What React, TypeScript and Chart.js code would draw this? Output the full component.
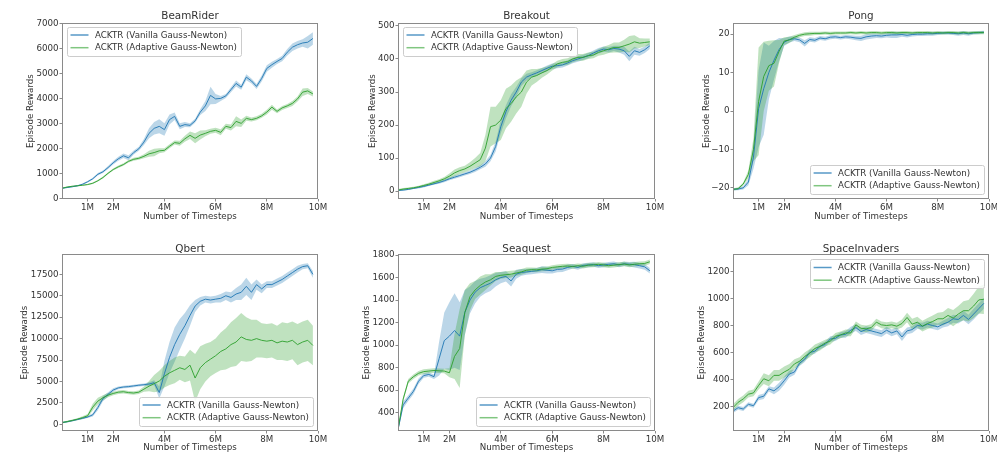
import { useEffect, useRef } from 'react';
import { Chart, registerables } from 'chart.js';
Chart.register(...registerables);

// ---------------- data ----------------
const steps = [0, 0.2, 0.4, 0.6, 0.8, 1.0, 1.2, 1.4, 1.6, 1.8, 2.0, 2.2, 2.4, 2.6, 2.8, 3.0, 3.2, 3.4, 3.6, 3.8, 4.0, 4.2, 4.4, 4.6, 4.8, 5.0, 5.2, 5.4, 5.6, 5.8, 6.0, 6.2, 6.4, 6.6, 6.8, 7.0, 7.2, 7.4, 7.6, 7.8, 8.0, 8.2, 8.4, 8.6, 8.8, 9.0, 9.2, 9.4, 9.6, 9.8];
const xTicks = [1, 2, 4, 6, 8, 10];
const seriesNames = ['ACKTR (Vanilla Gauss-Newton)', 'ACKTR (Adaptive Gauss-Newton)'];

const beamRiderVanilla = [400, 430, 460, 500, 560, 660, 780, 960, 1060, 1230, 1420, 1580, 1700, 1620, 1830, 1980, 2250, 2600, 2800, 2880, 2750, 3150, 3280, 2880, 2950, 2920, 3100, 3450, 3700, 4120, 3980, 4000, 4100, 4350, 4600, 4450, 4850, 4700, 4480, 4800, 5200, 5350, 5480, 5600, 5850, 6050, 6150, 6220, 6250, 6400];
const beamRiderVanillaSpread = [20, 20, 20, 25, 30, 30, 40, 50, 50, 60, 70, 80, 90, 100, 80, 80, 120, 200, 250, 280, 250, 200, 150, 120, 100, 80, 80, 120, 200, 350, 200, 100, 80, 100, 120, 100, 120, 100, 100, 120, 130, 120, 100, 110, 130, 150, 150, 150, 250, 250];
const beamRiderAdaptive = [400, 450, 480, 500, 520, 550, 600, 700, 830, 1000, 1150, 1260, 1350, 1480, 1560, 1600, 1680, 1780, 1830, 1900, 1920, 2080, 2230, 2200, 2380, 2520, 2400, 2530, 2600, 2680, 2720, 2640, 2880, 2830, 3080, 3000, 3200, 3150, 3200, 3300, 3450, 3650, 3480, 3620, 3700, 3800, 3980, 4250, 4300, 4180];
const beamRiderAdaptiveSpread = [20, 20, 20, 20, 20, 25, 30, 30, 40, 40, 40, 50, 50, 50, 60, 60, 80, 120, 150, 100, 80, 80, 80, 100, 120, 150, 200, 180, 120, 100, 100, 120, 100, 120, 200, 150, 100, 80, 80, 80, 100, 100, 80, 80, 80, 100, 100, 150, 120, 100];
const beamRiderYTicks = [0, 1000, 2000, 3000, 4000, 5000, 6000, 7000];

const breakoutVanilla = [2, 3, 5, 8, 11, 14, 18, 22, 26, 31, 37, 42, 47, 52, 57, 64, 72, 82, 100, 135, 195, 240, 275, 300, 330, 345, 352, 358, 365, 372, 378, 380, 382, 388, 395, 400, 405, 410, 418, 425, 430, 428, 432, 430, 425, 408, 425, 420, 428, 440];
const breakoutVanillaSpread = [2, 2, 2, 2, 3, 3, 3, 3, 4, 4, 4, 5, 5, 5, 5, 6, 6, 8, 10, 15, 20, 20, 18, 15, 12, 10, 8, 8, 8, 8, 8, 8, 8, 8, 8, 8, 8, 8, 8, 8, 8, 8, 8, 10, 12, 15, 12, 10, 10, 10];
const breakoutAdaptive = [3, 6, 8, 10, 13, 17, 21, 26, 31, 37, 45, 55, 62, 67, 75, 85, 95, 130, 195, 200, 215, 250, 265, 285, 300, 330, 345, 350, 358, 365, 375, 385, 390, 392, 400, 405, 405, 410, 412, 420, 425, 430, 435, 435, 440, 445, 452, 448, 450, 452];
const breakoutAdaptiveSpread = [3, 3, 3, 3, 3, 4, 4, 5, 5, 6, 8, 10, 10, 10, 12, 15, 20, 40, 60, 55, 60, 60, 55, 50, 45, 35, 25, 20, 15, 12, 10, 10, 10, 10, 10, 10, 10, 10, 10, 10, 12, 12, 15, 15, 18, 25, 20, 15, 12, 10];
const breakoutYTicks = [0, 100, 200, 300, 400, 500];

const pongVanilla = [-20.4, -20.3, -20.0, -18.5, -12.0, 0.6, 5.8, 10.0, 13.2, 16.0, 17.9, 18.6, 18.8, 18.5, 17.6, 18.6, 18.4, 19.0, 18.8, 19.2, 19.3, 19.1, 19.3, 19.2, 19.0, 18.9, 19.3, 19.5, 19.6, 19.5, 19.7, 19.8, 19.8, 19.9, 19.7, 19.9, 20.0, 20.0, 20.1, 20.1, 20.2, 20.3, 20.3, 20.2, 20.1, 20.3, 20.1, 20.3, 20.4, 20.5];
const pongVanillaSpread = [0.3, 0.3, 0.4, 0.8, 3, 10, 12, 7, 5, 3, 1, 0.8, 0.6, 0.6, 0.8, 0.6, 0.6, 0.5, 0.5, 0.5, 0.5, 0.5, 0.5, 0.5, 0.6, 0.7, 0.7, 0.7, 0.6, 0.6, 0.6, 0.8, 0.8, 0.6, 0.6, 0.5, 0.5, 0.5, 0.5, 0.5, 0.4, 0.4, 0.4, 0.4, 0.5, 0.5, 0.5, 0.4, 0.4, 0.4];
const pongAdaptive = [-20.4, -20.2, -19.0, -16.5, -10.0, 2.5, 9.0, 11.8, 12.4, 15.5, 18.2, 18.5, 19.2, 19.7, 20.0, 20.1, 20.2, 20.2, 20.3, 20.2, 20.3, 20.3, 20.3, 20.4, 20.3, 20.4, 20.3, 20.4, 20.4, 20.3, 20.4, 20.4, 20.3, 20.4, 20.4, 20.3, 20.4, 20.4, 20.4, 20.3, 20.4, 20.3, 20.4, 20.4, 20.3, 20.4, 20.3, 20.4, 20.4, 20.4];
const pongAdaptiveSpread = [0.3, 0.3, 0.4, 1.0, 3, 14, 9, 6.5, 6, 3, 1, 0.8, 0.6, 0.5, 0.5, 0.5, 0.4, 0.4, 0.4, 0.4, 0.4, 0.4, 0.4, 0.4, 0.4, 0.4, 0.4, 0.4, 0.4, 0.4, 0.4, 0.4, 0.4, 0.4, 0.4, 0.4, 0.4, 0.4, 0.4, 0.4, 0.4, 0.4, 0.4, 0.4, 0.4, 0.4, 0.4, 0.4, 0.4, 0.4];
const pongYTicks = [-20, -10, 0, 10, 20];

const qbertVanilla = [200, 300, 420, 560, 700, 850, 1100, 1950, 3000, 3500, 4000, 4250, 4350, 4400, 4480, 4560, 4620, 4700, 4850, 3700, 5900, 7800, 9300, 10500, 11500, 12700, 13800, 14350, 14600, 14500, 14600, 14700, 15000, 14800, 15200, 15400, 16100, 15400, 16300, 15800, 16300, 16300, 16600, 16900, 17300, 17700, 18100, 18400, 18500, 17500];
const qbertVanillaSpread = [80, 80, 80, 100, 100, 120, 200, 300, 300, 250, 200, 150, 150, 150, 150, 150, 150, 200, 300, 700, 1500, 1800, 2000, 1800, 1500, 1200, 700, 500, 400, 400, 400, 500, 500, 600, 700, 900, 1000, 900, 600, 500, 400, 400, 400, 400, 400, 400, 400, 300, 300, 400];
const qbertAdaptive = [200, 320, 450, 600, 780, 1000, 2000, 2700, 3100, 3400, 3600, 3750, 3800, 3700, 3650, 3750, 4100, 4450, 4750, 5050, 5600, 6000, 6300, 6600, 6400, 6900, 5400, 6600, 7200, 7600, 8000, 8500, 8800, 9300, 9600, 10200, 9900, 9800, 10000, 9800, 9700, 9800, 9500, 9700, 9600, 9800, 9300, 9600, 9800, 9200];
const qbertAdaptiveSpread = [100, 100, 100, 120, 150, 200, 400, 400, 300, 250, 200, 200, 200, 200, 200, 200, 300, 600, 1000, 1200, 1300, 1400, 1500, 1400, 1500, 1800, 2800, 2500, 2200, 2000, 2000, 2200, 2400, 2600, 2800, 2800, 2600, 2400, 2200, 2000, 2000, 2000, 2000, 2200, 2200, 2200, 2400, 2400, 2400, 2300];
const qbertYTicks = [0, 2500, 5000, 7500, 10000, 12500, 15000, 17500];

const seaquestVanilla = [250, 470, 530, 590, 680, 730, 740, 720, 880, 1040, 1080, 1130, 1080, 1290, 1400, 1470, 1510, 1530, 1550, 1580, 1600, 1610, 1570, 1630, 1645, 1650, 1655, 1660, 1670, 1665, 1660, 1672, 1675, 1690, 1700, 1690, 1708, 1712, 1715, 1705, 1712, 1718, 1722, 1712, 1722, 1718, 1715, 1705, 1695, 1660];
const seaquestVanillaSpread = [20, 30, 25, 25, 25, 20, 20, 20, 150, 250, 300, 330, 300, 200, 120, 100, 80, 70, 70, 60, 50, 45, 50, 40, 30, 25, 25, 25, 30, 30, 25, 25, 25, 25, 20, 20, 20, 20, 20, 20, 20, 20, 20, 20, 20, 20, 25, 25, 25, 25];
const seaquestAdaptive = [250, 520, 680, 720, 750, 765, 770, 775, 772, 770, 755, 900, 970, 1290, 1430, 1490, 1530, 1560, 1580, 1610, 1620, 1625, 1630, 1640, 1650, 1665, 1670, 1668, 1675, 1678, 1690, 1695, 1700, 1702, 1698, 1705, 1700, 1710, 1712, 1718, 1712, 1705, 1710, 1715, 1720, 1712, 1718, 1722, 1725, 1740];
const seaquestAdaptiveSpread = [15, 20, 20, 20, 20, 20, 20, 20, 20, 20, 40, 200, 350, 200, 120, 80, 80, 70, 50, 40, 30, 30, 30, 25, 25, 25, 20, 20, 20, 20, 20, 20, 20, 20, 20, 20, 20, 20, 20, 20, 20, 20, 20, 20, 20, 20, 20, 20, 20, 20];
const seaquestYTicks = [400, 600, 800, 1000, 1200, 1400, 1600, 1800];

const spaceInvadersVanilla = [165, 190, 180, 215, 205, 265, 275, 330, 315, 345, 390, 440, 455, 520, 550, 600, 610, 645, 660, 700, 705, 730, 735, 765, 785, 755, 770, 760, 750, 740, 765, 745, 760, 715, 760, 770, 800, 795, 810, 800, 790, 810, 825, 850, 845, 875, 845, 885, 925, 965];
const spaceInvadersVanillaSpread = [15, 15, 15, 15, 15, 20, 20, 20, 25, 30, 30, 25, 20, 20, 20, 20, 20, 20, 20, 20, 20, 20, 25, 25, 25, 25, 25, 25, 25, 25, 25, 25, 25, 30, 25, 25, 25, 25, 25, 25, 25, 25, 30, 30, 30, 35, 35, 40, 40, 40];
const spaceInvadersAdaptive = [190, 230, 255, 290, 300, 355, 405, 390, 430, 430, 455, 475, 515, 535, 570, 595, 630, 645, 670, 685, 720, 730, 745, 745, 805, 780, 775, 785, 825, 805, 800, 805, 795, 815, 860, 810, 825, 795, 815, 830, 850, 850, 875, 855, 885, 910, 910, 945, 990, 995];
const spaceInvadersAdaptiveSpread = [25, 25, 25, 25, 25, 30, 40, 40, 40, 40, 40, 40, 35, 30, 30, 30, 30, 30, 25, 25, 25, 25, 25, 25, 25, 25, 25, 25, 25, 25, 25, 25, 25, 30, 35, 40, 40, 40, 40, 45, 45, 50, 55, 60, 60, 70, 80, 90, 100, 110];
const spaceInvadersYTicks = [200, 400, 600, 800, 1000, 1200];

// ---------------- layout / style ----------------
const FONT = 'DejaVu Sans';
const TEXT = '#333333';
const FRAME = '#8a8a8a';
const BLUE = 'rgba(31,119,180,0.9)';
const GREEN = 'rgba(44,160,44,0.9)';
const BLUE_BAND = 'rgba(31,119,180,0.3)';
const GREEN_BAND = 'rgba(44,160,44,0.3)';
const SMALL = 8.7;
const TITLE = 10.4;

const colChartLeft = [62, 398, 733];
const colChartRight = [318, 655, 989];
const rowChartTop = [23, 254];
const rowChartBottom = [199, 431];
const rowCanvasTop = [0, 227];
const rowCanvasBottom = [226, 457];
const rowTitlePadBottom = [1.2, 0];
const Y_AXIS_W = 62;
const RIGHT_PAD = 14;

type PanelDef = {
  title: string;
  vanilla: number[];
  vanillaSpread: number[];
  adaptive: number[];
  adaptiveSpread: number[];
  yTicks: number[];
  yMin: number;
  yMax: number;
  col: number;
  row: number;
  legend: 'tl' | 'tr' | 'br';
  yTitleCenter: number;
};

const panels: PanelDef[] = [
  { title: 'BeamRider', vanilla: beamRiderVanilla, vanillaSpread: beamRiderVanillaSpread, adaptive: beamRiderAdaptive, adaptiveSpread: beamRiderAdaptiveSpread, yTicks: beamRiderYTicks, yMin: -30, yMax: 7020, col: 0, row: 0, legend: 'tl', yTitleCenter: 31 },
  { title: 'Breakout', vanilla: breakoutVanilla, vanillaSpread: breakoutVanillaSpread, adaptive: breakoutAdaptive, adaptiveSpread: breakoutAdaptiveSpread, yTicks: breakoutYTicks, yMin: -24, yMax: 509, col: 1, row: 0, legend: 'tl', yTitleCenter: 36.7 },
  { title: 'Pong', vanilla: pongVanilla, vanillaSpread: pongVanillaSpread, adaptive: pongAdaptive, adaptiveSpread: pongAdaptiveSpread, yTicks: pongYTicks, yMin: -22.9, yMax: 22.9, col: 2, row: 0, legend: 'br', yTitleCenter: 35.7 },
  { title: 'Qbert', vanilla: qbertVanilla, vanillaSpread: qbertVanillaSpread, adaptive: qbertAdaptive, adaptiveSpread: qbertAdaptiveSpread, yTicks: qbertYTicks, yMin: -780, yMax: 19870, col: 0, row: 1, legend: 'br', yTitleCenter: 25 },
  { title: 'Seaquest', vanilla: seaquestVanilla, vanillaSpread: seaquestVanillaSpread, adaptive: seaquestAdaptive, adaptiveSpread: seaquestAdaptiveSpread, yTicks: seaquestYTicks, yMin: 238, yMax: 1809, col: 1, row: 1, legend: 'br', yTitleCenter: 30.7 },
  { title: 'SpaceInvaders', vanilla: spaceInvadersVanilla, vanillaSpread: spaceInvadersVanillaSpread, adaptive: spaceInvadersAdaptive, adaptiveSpread: spaceInvadersAdaptiveSpread, yTicks: spaceInvadersYTicks, yMin: 17, yMax: 1331, col: 2, row: 1, legend: 'tr', yTitleCenter: 30.7 },
];

const fmtY = (v: number) => (v < 0 ? '\u2212' + Math.abs(v) : String(v));

const framePlugin = {
  id: 'frame',
  afterDatasetsDraw(chart: any) {
    const { ctx, chartArea: a } = chart;
    ctx.save();
    ctx.strokeStyle = FRAME;
    ctx.lineWidth = 1;
    ctx.strokeRect(Math.round(a.left) + 0.5, Math.round(a.top) + 0.5, Math.round(a.right - a.left) - 1, Math.round(a.bottom - a.top) - 1);
    ctx.restore();
  },
};

const legendPlugin = {
  id: 'boxLegend',
  afterDraw(chart: any, _args: any, opts: any) {
    const { ctx, chartArea: a } = chart;
    ctx.save();
    ctx.font = `${SMALL}px "${FONT}"`;
    const tw = Math.max(...seriesNames.map((n) => ctx.measureText(n).width));
    const w = 28.5 + tw + 4;
    const h = 29;
    let left = a.left + 4.5;
    let top = a.top + 3.5;
    if (opts.pos === 'tr') { left = a.right - 5 - w; top = a.top + 5; }
    if (opts.pos === 'br') { left = a.right - 5 - w; top = a.bottom - 5.5 - h; }
    ctx.fillStyle = 'rgba(255,255,255,0.85)';
    ctx.strokeStyle = '#cccccc';
    ctx.lineWidth = 1;
    ctx.beginPath();
    (ctx as any).roundRect(Math.round(left) + 0.5, Math.round(top) + 0.5, Math.round(w), Math.round(h), 2);
    ctx.fill();
    ctx.stroke();
    const colors = ['rgba(31,119,180,0.75)', 'rgba(44,160,44,0.6)'];
    seriesNames.forEach((name, i) => {
      const y = top + 8.5 + i * 12.7;
      ctx.strokeStyle = colors[i];
      ctx.lineWidth = 1.5;
      ctx.beginPath();
      ctx.moveTo(left + 4, y);
      ctx.lineTo(left + 22, y);
      ctx.stroke();
      ctx.fillStyle = TEXT;
      ctx.textBaseline = 'middle';
      ctx.textAlign = 'left';
      ctx.fillText(name, left + 28.5, y + 0.5);
    });
    ctx.restore();
  },
};

function Panel({ def }: { def: PanelDef }) {
  const ref = useRef<HTMLCanvasElement | null>(null);
  const canvasLeft = colChartLeft[def.col] - Y_AXIS_W;
  const canvasWidth = Y_AXIS_W + (colChartRight[def.col] - colChartLeft[def.col]) + RIGHT_PAD;
  const canvasTop = rowCanvasTop[def.row];
  const canvasHeight = rowCanvasBottom[def.row] - canvasTop;
  const titleBoxH = rowChartTop[def.row] - canvasTop;
  const xAxisH = rowCanvasBottom[def.row] - rowChartBottom[def.row];

  useEffect(() => {
    if (!ref.current) return;
    const pts = (arr: number[], spread?: number[], sign = 0) =>
      steps.map((s, i) => ({ x: s, y: arr[i] + (spread ? sign * spread[i] : 0) }));
    const bandBase = { borderWidth: 0, borderColor: 'rgba(0,0,0,0)', pointRadius: 0, tension: 0 };
    const tickFont = { family: FONT, size: SMALL };
    const padBottom = rowTitlePadBottom[def.row];
    const chart = new Chart(ref.current, {
      type: 'line',
      data: {
        datasets: [
          { ...bandBase, label: 'vl', data: pts(def.vanilla, def.vanillaSpread, -1), fill: false, order: 4 },
          { ...bandBase, label: 'vu', data: pts(def.vanilla, def.vanillaSpread, 1), fill: '-1', backgroundColor: BLUE_BAND, order: 4 },
          { ...bandBase, label: 'al', data: pts(def.adaptive, def.adaptiveSpread, -1), fill: false, order: 3 },
          { ...bandBase, label: 'au', data: pts(def.adaptive, def.adaptiveSpread, 1), fill: '-1', backgroundColor: GREEN_BAND, order: 3 },
          { label: seriesNames[0], data: pts(def.vanilla), borderColor: BLUE, borderWidth: 1, pointRadius: 0, fill: false, tension: 0, order: 2 },
          { label: seriesNames[1], data: pts(def.adaptive), borderColor: GREEN, borderWidth: 1, pointRadius: 0, fill: false, tension: 0, order: 1 },
        ],
      },
      options: {
        animation: false,
        responsive: false,
        maintainAspectRatio: false,
        events: [],
        layout: { padding: { left: 0, right: RIGHT_PAD, top: 0, bottom: 0 } },
        plugins: {
          legend: { display: false },
          tooltip: { enabled: false },
          title: {
            display: true,
            text: def.title,
            fullSize: false,
            color: TEXT,
            font: { family: FONT, size: TITLE, weight: 'normal', lineHeight: 1 },
            padding: { top: titleBoxH - TITLE - padBottom, bottom: padBottom },
          },
          boxLegend: { pos: def.legend },
        } as any,
        scales: {
          x: {
            type: 'linear',
            min: 0,
            max: 10,
            afterBuildTicks: (s: any) => { s.ticks = xTicks.map((v) => ({ value: v })); },
            afterFit: (s: any) => { s.height = xAxisH; },
            ticks: { callback: (v: any) => v + 'M', font: tickFont, color: TEXT, padding: 1, maxRotation: 0, autoSkip: false },
            grid: { display: true, drawOnChartArea: false, drawTicks: true, tickLength: 2.5, color: FRAME },
            border: { display: false },
            title: { display: true, text: 'Number of Timesteps', color: TEXT, font: { family: FONT, size: SMALL, lineHeight: 1.2 }, padding: { top: 0, bottom: 4.1 } },
          },
          y: {
            type: 'linear',
            min: def.yMin,
            max: def.yMax,
            afterBuildTicks: (s: any) => { s.ticks = def.yTicks.map((v) => ({ value: v })); },
            afterFit: (s: any) => { s.width = Y_AXIS_W; },
            ticks: { callback: (v: any) => fmtY(Number(v)), font: tickFont, color: TEXT, padding: 1, autoSkip: false },
            grid: { display: true, drawOnChartArea: false, drawTicks: true, tickLength: 2.5, color: FRAME },
            border: { display: false },
            title: { display: true, text: 'Episode Rewards', color: TEXT, font: { family: FONT, size: SMALL, lineHeight: 1.2 }, padding: { top: def.yTitleCenter - SMALL * 0.6, bottom: 0 } },
          },
        },
      } as any,
      plugins: [framePlugin, legendPlugin],
    });
    return () => chart.destroy();
  }, [def]);

  return (
    <canvas
      ref={ref}
      width={canvasWidth}
      height={canvasHeight}
      style={{ position: 'absolute', left: canvasLeft, top: canvasTop, width: canvasWidth, height: canvasHeight }}
    />
  );
}

export default function App() {
  return (
    <div style={{ position: 'absolute', left: 0, top: 0, width: 997, height: 452, overflow: 'hidden', background: '#ffffff' }}>
      {panels.map((p) => (
        <Panel key={p.title} def={p} />
      ))}
    </div>
  );
}
